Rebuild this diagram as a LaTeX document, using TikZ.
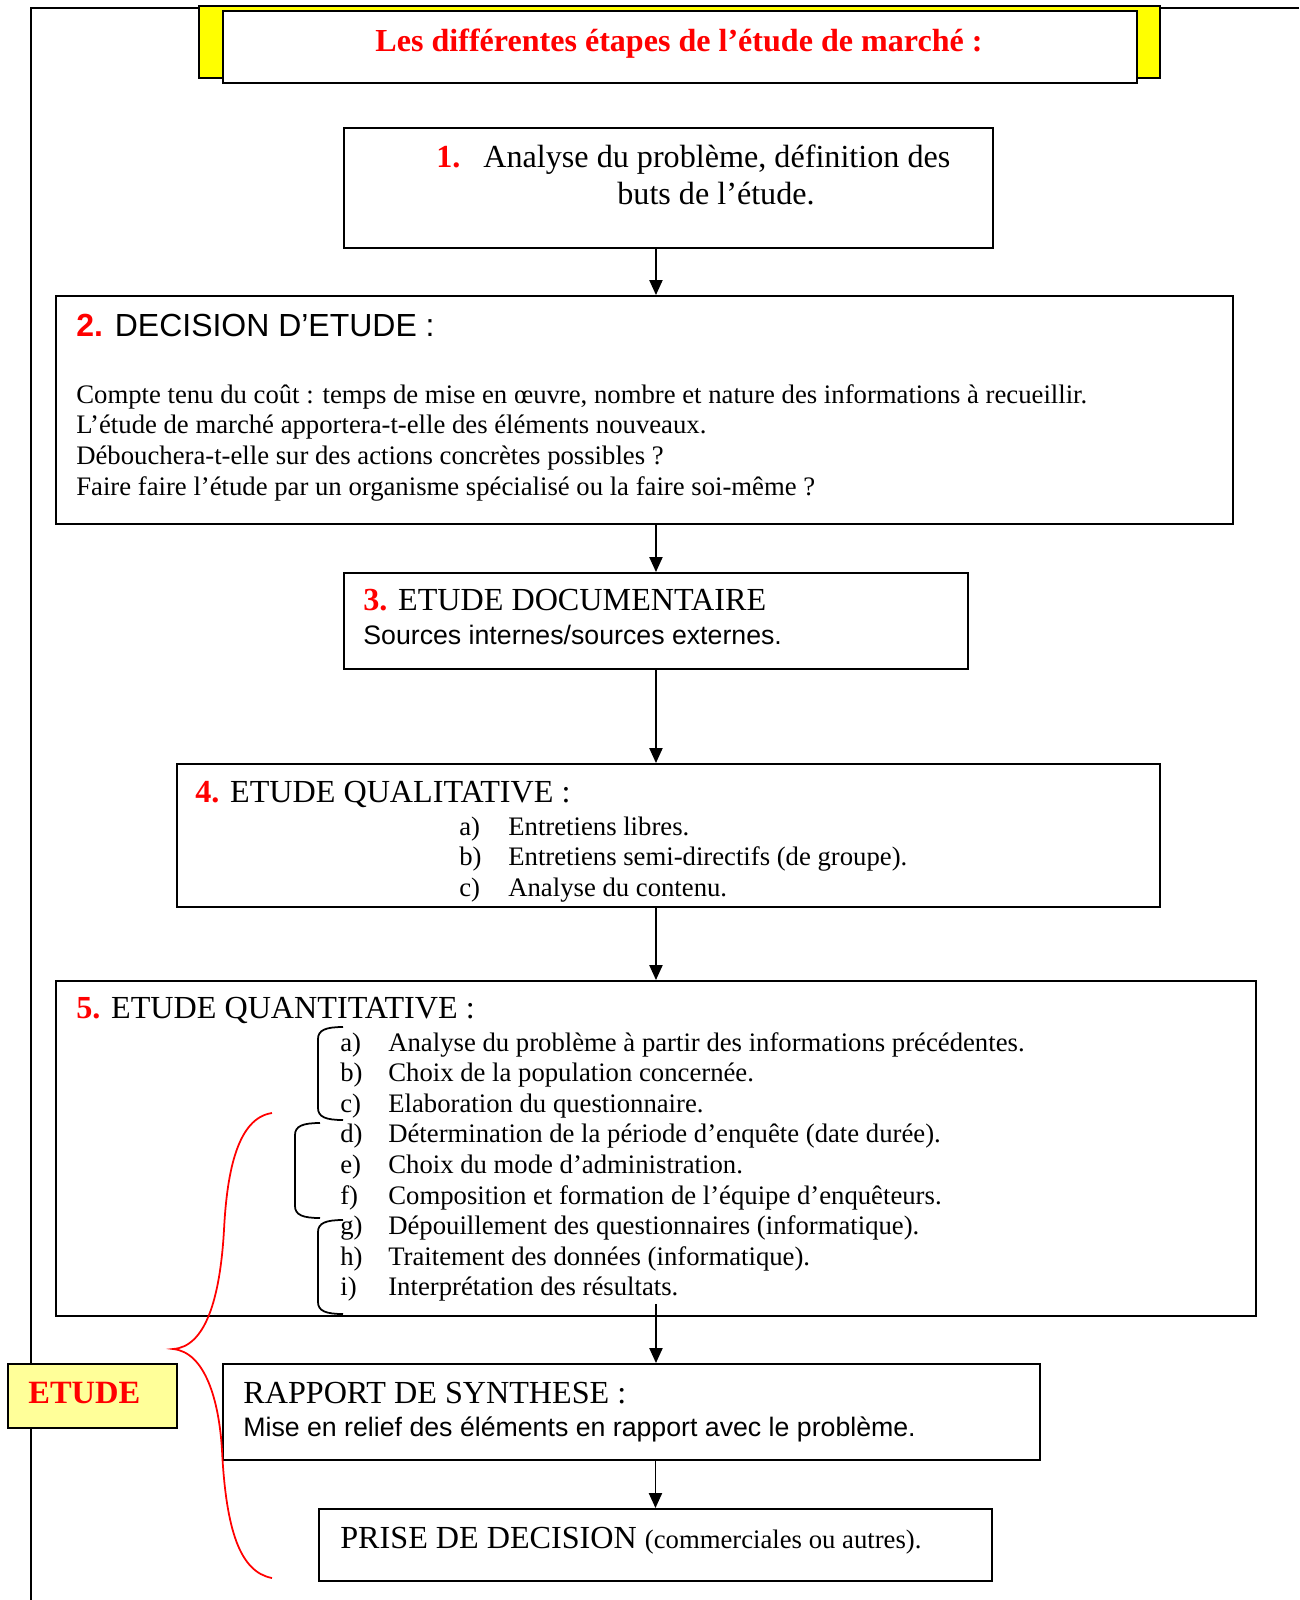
\documentclass[tikz,border=0pt]{standalone}
\usepackage{fontspec}
\setmainfont{Liberation Serif}
\setsansfont{Liberation Sans}
\usetikzlibrary{arrows.meta}

\definecolor{numred}{HTML}{FF0000}
\definecolor{bandyellow}{HTML}{FFFF00}
\definecolor{etudeyellow}{HTML}{FFFF99}

\newcommand{\pxu}{0.02cm}
\newcommand{\stepnum}[1]{\textcolor{numred}{\textbf{#1}}}
% crochet arrondi : x, haut, bas
\newcommand{\crochet}[3]{\draw[line width=1pt] (#1+25,#2) .. controls (#1+8,#2) and (#1,#2+3) .. (#1,#2+12) -- (#1,#3-12) .. controls (#1,#3-3) and (#1+8,#3) .. (#1+25,#3);}

\tikzset{
  box/.style={draw, line width=1.1pt, inner sep=0pt, anchor=north west},
  txt/.style={anchor=base west, inner sep=0pt, font=\fontsize{15.2}{17.5}\selectfont},
  head/.style={anchor=base west, inner sep=0pt, font=\fontsize{18.3}{21}\selectfont},
  sanshead/.style={anchor=base west, inner sep=0pt, font=\sffamily\fontsize{18.2}{21}\selectfont},
  sanstxt/.style={anchor=base west, inner sep=0pt, font=\sffamily\fontsize{15.2}{17.5}\selectfont},
  arr/.style={-{Triangle[length=8.5pt,width=7.5pt]}, line width=0.85pt},
}

\begin{document}
\begin{tikzpicture}[x=0.02cm, y=-0.02cm]
  \useasboundingbox (0,0) rectangle (1299,1600);
  % cadre
  \draw[line width=1.1pt] (1299,8) -- (31,8) -- (31,1600);
  % titre
  \draw[line width=1.1pt, fill=bandyellow] (199,6) rectangle (1160,78);
  \node[box, fill=white, minimum width=914*\pxu, minimum height=72*\pxu] (titre) at (222,10) {};
  \node[anchor=base, inner sep=0pt, text=numred, font=\bfseries\fontsize{18.25}{21}\selectfont] (titretxt) at (679,51) {Les différentes étapes de l’étude de marché :};

  % boites
  \node[box, minimum width=649*\pxu, minimum height=120*\pxu] (b1) at (343,127) {};
  \node[box, minimum width=1177*\pxu, minimum height=228*\pxu] (b2) at (55,295) {};
  \node[box, minimum width=624*\pxu, minimum height=96*\pxu] (b3) at (343,572) {};
  \node[box, minimum width=983*\pxu, minimum height=143*\pxu] (b4) at (176,763) {};
  \node[box, minimum width=1200*\pxu, minimum height=335*\pxu] (b5) at (55,980) {};
  \node[box, minimum width=817*\pxu, minimum height=96*\pxu] (b6) at (222,1363) {};
  \node[box, minimum width=673*\pxu, minimum height=72*\pxu] (b7) at (318,1508) {};

  % 1
  \node[head] (t1n) at (436,167) {\stepnum{1.}};
  \node[head] (t1a) at (483,167) {Analyse du problème, définition des};
  \node[head] (t1b) at (617,204) {buts de l’étude.};

  % 2
  \node[sanshead] (t2) at (76,336) {\stepnum{2.} DECISION D’ETUDE :};
  \foreach \ligne [count=\i] in {
    {Compte tenu du coût : temps de mise en œuvre, nombre et nature des informations à recueillir.},
    {L’étude de marché apportera-t-elle des éléments nouveaux.},
    {Débouchera-t-elle sur des actions concrètes possibles ?},
    {Faire faire l’étude par un organisme spécialisé ou la faire soi-même ?}}
    \node[txt] (t2l\i) at (76,{372.5+30.7*\i}) {\ligne};

  % 3
  \node[head] (t3) at (363,610) {\stepnum{3.} ETUDE DOCUMENTAIRE};
  \node[sanstxt] (t3s) at (363,644) {Sources internes/sources externes.};

  % 4
  \node[head] (t4) at (195,802) {\stepnum{4.} ETUDE QUALITATIVE :};
  \foreach \lab/\ligne [count=\i] in {a)/{Entretiens libres.}, b)/{Entretiens semi-directifs (de groupe).}, c)/{Analyse du contenu.}} {
    \node[txt] (t4lab\i) at (459,{804.5+30.5*\i}) {\lab};
    \node[txt] (t4l\i) at (508,{804.5+30.5*\i}) {\ligne};
  }

  % 5
  \node[head] (t5) at (76,1018) {\stepnum{5.} ETUDE QUANTITATIVE :};
  \foreach \lab/\ligne [count=\i] in {
    a)/{Analyse du problème à partir des informations précédentes.},
    b)/{Choix de la population concernée.},
    c)/{Elaboration du questionnaire.},
    d)/{Détermination de la période d’enquête (date durée).},
    e)/{Choix du mode d’administration.},
    f)/{Composition et formation de l’équipe d’enquêteurs.},
    g)/{Dépouillement des questionnaires (informatique).},
    h)/{Traitement des données (informatique).},
    i)/{Interprétation des résultats.}} {
    \node[txt] (t5lab\i) at (340,{1020.4+30.6*\i}) {\lab};
    \node[txt] (t5l\i) at (388,{1020.4+30.6*\i}) {\ligne};
  }
  \crochet{318}{1027}{1120}
  \crochet{295}{1123}{1218}
  \crochet{318}{1220}{1314}

  % 6 et 7
  \node[head] (t6) at (243,1403) {RAPPORT DE SYNTHESE :};
  \node[sanstxt] (t6s) at (243,1436) {Mise en relief des éléments en rapport avec le problème.};
  \node[head] (t7) at (340,1548) {PRISE DE DECISION {\fontsize{15.2}{17.5}\selectfont(commerciales ou autres).}};

  % fleches
  \draw[arr] (b1.south -| b3.north) -- (b2.north -| b3.north);
  \draw[arr] (b2.south -| b3.north) -- (b3.north);
  \draw[arr] (b3.south) -- (b4.north -| b3.south);
  \draw[arr] (b4.south -| b3.south) -- (b5.north);
  \draw[arr] ([yshift=7.4pt]b5.south) -- (b6.north -| b5.south);
  \draw[arr] (b6.south -| b7.north) -- (b7.north);

  % accolade ETUDE
  \draw[numred, line width=1pt] (272,1113) .. controls (238,1118) and (227,1170) .. (224,1230)
    .. controls (220,1300) and (205,1347) .. (173,1349)
    .. controls (205,1352) and (219,1400) .. (222,1450)
    .. controls (226,1530) and (240,1572) .. (272,1578);
  \node[box, fill=etudeyellow, minimum width=169*\pxu, minimum height=64*\pxu] (etude) at (7,1363) {};
  \node[anchor=base west, inner sep=0pt, text=numred, font=\bfseries\fontsize{18.5}{21}\selectfont] (etudetxt) at (28,1403) {ETUDE};
\end{tikzpicture}
\end{document}
